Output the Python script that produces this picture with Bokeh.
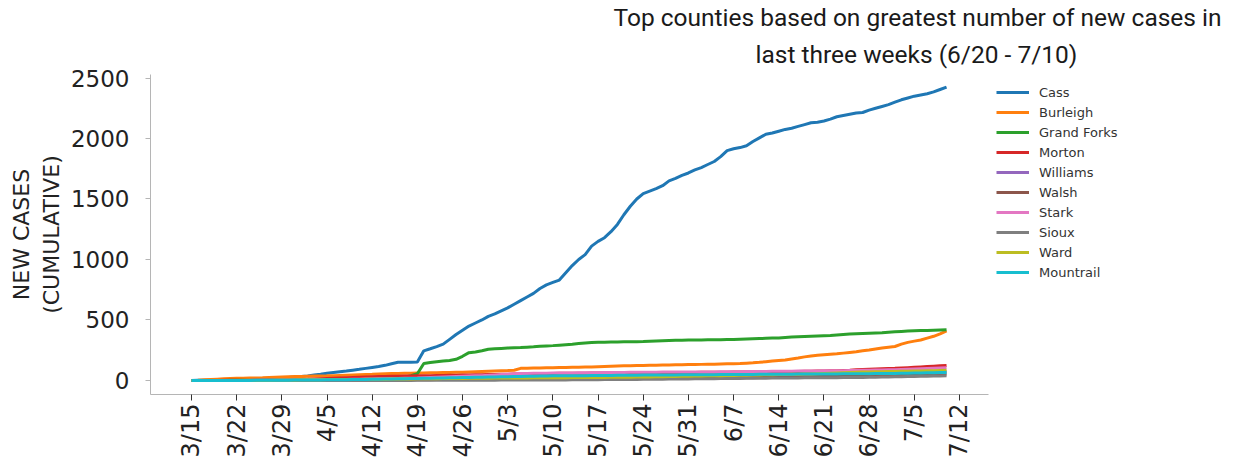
import numpy as np
import pandas as pd
from bokeh.plotting import figure
from bokeh.models import Range1d, FixedTicker, Legend, LegendItem, Title
from bokeh.embed import file_html
from bokeh.resources import INLINE

# ---------------- data ----------------
start_date = "2020-03-15"
end_date = "2020-07-10"

tick_labels = ["3/15", "3/22", "3/29", "4/5", "4/12", "4/19", "4/26", "5/3", "5/10",
               "5/17", "5/24", "5/31", "6/7", "6/14", "6/21", "6/28", "7/5", "7/12"]
y_ticks = [0, 500, 1000, 1500, 2000, 2500]

title_lines = ["Top counties based on greatest number of new cases in",
               "last three weeks (6/20 - 7/10)"]

counties = ["Cass", "Burleigh", "Grand Forks", "Morton", "Williams",
            "Walsh", "Stark", "Sioux", "Ward", "Mountrail"]
colors = ["#1f77b4", "#ff7f0e", "#2ca02c", "#d62728", "#9467bd",
          "#8c564b", "#e377c2", "#7f7f7f", "#bcbd22", "#17becf"]

cass = [0, 1, 1, 2, 3, 4, 5, 6, 8, 10,
        12, 14, 16, 18, 22, 25, 28, 33, 38, 45,
        52, 60, 66, 72, 78, 85, 92, 100, 108, 116,
        125, 138, 150, 150, 150, 152, 245, 262, 280, 300,
        340, 380, 415, 450, 475, 500, 530, 550, 575, 600,
        630, 660, 690, 720, 760, 790, 810, 830, 890, 950,
        1000, 1040, 1110, 1150, 1180, 1230, 1290, 1370, 1440, 1500,
        1545, 1565, 1585, 1610, 1650, 1670, 1695, 1715, 1740, 1760,
        1785, 1810, 1850, 1900, 1915, 1925, 1940, 1975, 2005, 2035,
        2045, 2060, 2075, 2085, 2100, 2115, 2130, 2135, 2145, 2160,
        2180, 2190, 2200, 2210, 2215, 2235, 2250, 2265, 2280, 2300,
        2320, 2335, 2350, 2360, 2370, 2385, 2405, 2425]

burleigh = [0, 2, 5, 8, 11, 14, 16, 18, 19, 20,
            21, 22, 24, 26, 28, 30, 32, 33, 35, 36,
            37, 38, 40, 42, 44, 46, 48, 50, 52, 54,
            56, 57, 58, 59, 60, 61, 62, 63, 64, 65,
            66, 67, 68, 70, 72, 74, 76, 78, 80, 82,
            85, 100, 102, 103, 104, 105, 106, 107, 108, 109,
            110, 111, 112, 114, 116, 118, 120, 121, 122, 123,
            124, 125, 126, 127, 128, 129, 130, 131, 132, 133,
            134, 135, 137, 138, 139, 140, 143, 146, 150, 155,
            160, 165, 170, 178, 186, 195, 202, 208, 212, 216,
            220, 226, 232, 238, 245, 252, 260, 268, 275, 281,
            300, 315, 325, 335, 350, 365, 385, 410]

grand_forks = [0, 0, 0, 0, 0, 0, 1, 1, 1, 2,
               2, 2, 3, 3, 4, 4, 5, 5, 6, 6,
               7, 8, 9, 10, 11, 12, 13, 14, 16, 18,
               20, 22, 24, 26, 40, 55, 140, 148, 155, 160,
               165, 175, 200, 230, 235, 245, 258, 262, 265, 268,
               270, 272, 275, 278, 282, 285, 288, 292, 296, 300,
               305, 310, 314, 315, 316, 317, 318, 319, 320, 321,
               322, 324, 326, 328, 330, 332, 333, 334, 335, 335,
               336, 336, 337, 338, 338, 340, 342, 344, 346, 348,
               350, 352, 356, 360, 362, 364, 366, 368, 370, 372,
               376, 380, 384, 386, 388, 390, 392, 394, 398, 402,
               405, 408, 410, 412, 414, 416, 418, 420]

morton = [0, 0, 0, 0, 0, 1, 1, 1, 2, 2,
          3, 3, 4, 5, 6, 7, 8, 9, 10, 12,
          14, 16, 18, 20, 22, 24, 26, 28, 30, 32,
          33, 34, 35, 36, 37, 38, 39, 40, 41, 42,
          43, 44, 45, 46, 47, 48, 49, 50, 51, 52,
          53, 54, 55, 56, 57, 58, 58, 59, 59, 60,
          60, 60, 61, 61, 62, 62, 62, 63, 63, 63,
          64, 64, 64, 65, 65, 65, 66, 66, 66, 67,
          67, 67, 68, 68, 69, 69, 70, 70, 71, 71,
          72, 72, 73, 74, 75, 76, 77, 78, 79, 80,
          81, 83, 85, 88, 90, 92, 94, 96, 98, 100,
          103, 106, 109, 112, 115, 118, 121, 124]

williams = [0, 0, 0, 0, 0, 0, 0, 0, 0, 0,
            0, 1, 1, 1, 2, 2, 3, 3, 4, 4,
            5, 5, 6, 6, 7, 7, 8, 8, 9, 9,
            10, 10, 11, 11, 12, 12, 13, 13, 14, 14,
            15, 15, 16, 16, 17, 17, 18, 18, 19, 19,
            20, 20, 21, 21, 22, 22, 23, 23, 24, 24,
            25, 25, 26, 26, 27, 27, 28, 28, 29, 29,
            30, 30, 31, 31, 32, 32, 33, 33, 34, 34,
            35, 35, 36, 36, 37, 37, 38, 38, 39, 39,
            40, 41, 42, 43, 44, 45, 46, 47, 48, 49,
            50, 51, 52, 53, 54, 55, 56, 57, 58, 59,
            61, 63, 65, 67, 69, 71, 73, 75]

walsh = [0, 0, 0, 0, 0, 0, 0, 0, 0, 0,
         0, 0, 0, 0, 1, 1, 1, 1, 2, 2,
         2, 2, 3, 3, 3, 3, 4, 4, 4, 4,
         5, 5, 5, 5, 6, 6, 6, 6, 7, 7,
         7, 7, 8, 8, 8, 8, 9, 9, 9, 9,
         10, 10, 10, 11, 11, 11, 12, 12, 12, 13,
         13, 13, 14, 14, 14, 15, 15, 15, 16, 16,
         16, 17, 17, 17, 18, 18, 18, 19, 19, 19,
         20, 20, 21, 21, 22, 22, 23, 23, 24, 24,
         25, 26, 27, 28, 29, 30, 31, 32, 33, 34,
         35, 36, 37, 38, 39, 40, 41, 42, 43, 44,
         45, 46, 47, 48, 49, 50, 52, 54]

stark = [0, 0, 0, 0, 0, 0, 0, 0, 0, 1,
         1, 1, 2, 2, 3, 3, 4, 4, 5, 5,
         6, 6, 7, 8, 9, 10, 11, 12, 13, 14,
         15, 16, 17, 18, 19, 20, 22, 24, 26, 28,
         30, 32, 34, 36, 38, 40, 43, 46, 49, 52,
         55, 57, 58, 59, 60, 60, 61, 61, 62, 62,
         63, 63, 64, 64, 65, 65, 66, 66, 67, 67,
         68, 68, 68, 69, 69, 69, 70, 70, 70, 71,
         71, 71, 72, 72, 73, 73, 74, 74, 75, 75,
         76, 76, 77, 77, 78, 78, 79, 79, 80, 80,
         81, 81, 82, 83, 84, 85, 86, 87, 88, 89,
         91, 93, 95, 97, 99, 101, 103, 105]

sioux = [0, 0, 0, 0, 0, 0, 0, 0, 0, 0,
         0, 0, 0, 0, 0, 0, 0, 0, 0, 0,
         0, 0, 0, 0, 0, 0, 0, 0, 0, 0,
         0, 0, 0, 0, 0, 1, 1, 1, 1, 1,
         1, 1, 2, 2, 2, 2, 2, 2, 3, 3,
         3, 3, 3, 3, 4, 4, 4, 4, 4, 5,
         5, 5, 6, 6, 7, 7, 8, 8, 9, 9,
         10, 10, 11, 11, 12, 12, 13, 13, 14, 14,
         15, 15, 16, 16, 17, 17, 18, 18, 19, 19,
         20, 20, 21, 21, 21, 22, 22, 22, 23, 23,
         23, 24, 24, 25, 25, 26, 27, 28, 29, 30,
         31, 32, 33, 34, 35, 36, 37, 39]

ward = [0, 0, 0, 0, 0, 0, 0, 0, 1, 1,
        1, 2, 2, 3, 3, 4, 4, 5, 5, 6,
        6, 7, 7, 8, 8, 9, 9, 10, 10, 11,
        11, 12, 12, 13, 13, 14, 14, 15, 15, 16,
        16, 17, 17, 18, 18, 19, 19, 20, 20, 20,
        21, 21, 21, 22, 22, 22, 23, 23, 23, 24,
        24, 24, 25, 25, 25, 26, 26, 27, 27, 28,
        28, 29, 30, 31, 32, 33, 34, 35, 36, 37,
        38, 39, 40, 41, 42, 43, 44, 45, 46, 47,
        48, 49, 50, 51, 52, 53, 54, 56, 58, 60,
        62, 64, 66, 68, 70, 71, 72, 73, 74, 75,
        76, 77, 78, 79, 80, 81, 83, 85]

mountrail = [0, 0, 0, 0, 0, 0, 0, 0, 0, 0,
             1, 1, 1, 2, 2, 2, 3, 3, 3, 4,
             4, 5, 5, 6, 6, 7, 8, 9, 10, 11,
             12, 13, 14, 15, 16, 17, 18, 19, 20, 21,
             22, 23, 24, 25, 26, 27, 28, 29, 30, 31,
             32, 33, 34, 35, 36, 37, 38, 38, 39, 39,
             40, 40, 41, 41, 42, 42, 43, 43, 44, 44,
             45, 45, 45, 46, 46, 46, 47, 47, 47, 48,
             48, 48, 49, 49, 49, 50, 50, 50, 51, 51,
             51, 52, 52, 52, 53, 53, 53, 54, 54, 54,
             54, 55, 55, 55, 56, 56, 57, 57, 58, 58,
             59, 60, 61, 62, 63, 64, 65, 66]

series = [cass, burleigh, grand_forks, morton, williams,
          walsh, stark, sioux, ward, mountrail]

# ---------------- x positions (days since start) ----------------
dates = pd.date_range(start_date, end_date, freq="D")
day = np.asarray((dates - dates[0]).days, dtype=float)
tick_dates = pd.date_range(start_date, periods=len(tick_labels), freq="7D")
tick_days = [int((d - dates[0]).days) for d in tick_dates]

# ---------------- figure ----------------
FL, FT, FW, FH = 150, 70, 838, 320
FR, FB = 1220 - FL - FW, 453 - FT - FH
p = figure(frame_width=FW, frame_height=FH,
           output_backend="svg", toolbar_location=None,
           x_range=Range1d(-6.35, 123.5), y_range=Range1d(-116, 2529),
           min_border_left=FL, min_border_right=FR,
           min_border_top=FT, min_border_bottom=FB)
p.outline_line_color = None
p.background_fill_color = "white"
p.border_fill_color = "white"
p.xgrid.grid_line_color = None
p.ygrid.grid_line_color = None

renderers = []
for vals, col in zip(series, colors):
    r = p.line(day, vals, line_color=col, line_width=3)
    renderers.append(r)

# x axis
p.xaxis.ticker = FixedTicker(ticks=tick_days)
p.xaxis.major_label_overrides = {t: lab for t, lab in zip(tick_days, tick_labels)}
p.xaxis.major_label_orientation = np.pi / 2
p.xaxis.major_label_text_font = "DejaVu Sans"
p.xaxis.major_label_text_font_size = "24px"
p.xaxis.major_label_text_color = "#222222"
p.xaxis.major_tick_out = 6
p.xaxis.major_tick_in = 0
p.xaxis.minor_tick_out = 0
p.xaxis.minor_tick_in = 0
p.xaxis.major_tick_line_color = "#333333"
p.xaxis.axis_line_color = "#b5b5b5"
p.xaxis.major_label_standoff = 3

# y axis
p.yaxis.ticker = FixedTicker(ticks=y_ticks)
p.yaxis.major_label_text_font = "DejaVu Sans"
p.yaxis.major_label_text_font_size = "23px"
p.yaxis.major_label_text_color = "#222222"
p.yaxis.major_tick_out = 5
p.yaxis.major_tick_in = 0
p.yaxis.minor_tick_out = 0
p.yaxis.minor_tick_in = 0
p.yaxis.major_tick_line_color = "#b5b5b5"
p.yaxis.axis_line_color = "#b5b5b5"
p.yaxis.major_label_standoff = 16
p.yaxis.axis_label = "NEW CASES\n(CUMULATIVE)"
p.yaxis.axis_label_text_font = "DejaVu Sans"
p.yaxis.axis_label_text_font_size = "22px"
p.yaxis.axis_label_text_font_style = "normal"
p.yaxis.axis_label_text_color = "#222222"
p.yaxis.axis_label_text_align = "center"
p.yaxis.axis_label_standoff = 4

# legend
legend = Legend(items=[LegendItem(label=n, renderers=[r]) for n, r in zip(counties, renderers)],
                location="top_left", orientation="vertical")
legend.label_text_font = "DejaVu Sans"
legend.label_text_font_size = "13px"
legend.label_text_color = "#333333"
legend.glyph_width = 33
legend.glyph_height = 20
legend.label_height = 20
legend.label_standoff = 10
legend.spacing = 0
legend.padding = 0
legend.margin = 8
legend.border_line_color = None
legend.background_fill_alpha = 0
p.add_layout(legend, "right")

# title: two lines, stacked above the frame, shifted to the right-hand side
title_left = [463, 605]      # left offsets of each line from the frame's left edge
title_standoff = [0, 12]
for txt, off, so in zip(title_lines[::-1], title_left[::-1], title_standoff[::-1]):
    p.add_layout(Title(text=txt, align="left", offset=off, standoff=so,
                       vertical_align="bottom",
                       text_font="Roboto", text_font_size="24.5px",
                       text_font_style="normal", text_color="#1a1a1a"), "above")

open("out.html", "w").write(file_html(p, INLINE))
